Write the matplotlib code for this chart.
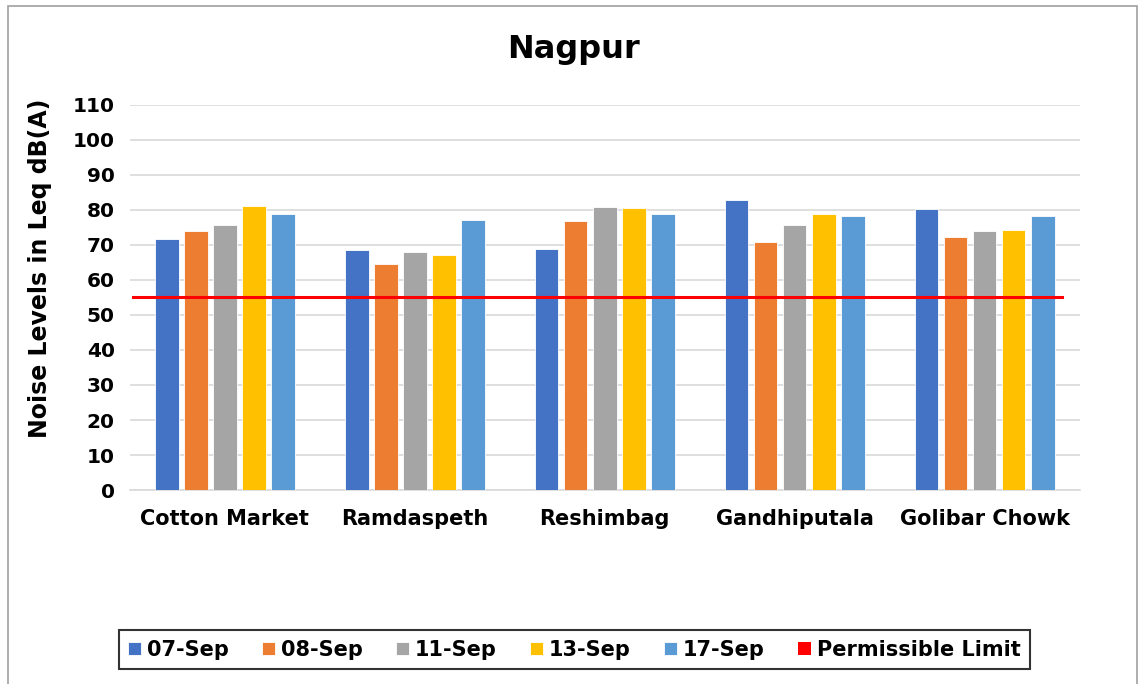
import numpy as np
import matplotlib.pyplot as plt
from matplotlib.patches import Rectangle

# ============================================================
# ДАННЫЕ
# ============================================================

locations = ["Cotton Market", "Ramdaspeth", "Reshimbag", "Gandhiputala", "Golibar Chowk"]
dates = ["07-Sep", "08-Sep", "11-Sep", "13-Sep", "17-Sep"]

sep07 = [71.6, 68.5, 68.9, 82.8, 80.3]
sep08 = [73.9, 64.6, 76.9, 70.9, 72.2]
sep11 = [75.6, 67.9, 80.9, 75.7, 74.0]
sep13 = [81.2, 67.1, 80.6, 78.9, 74.4]
sep17 = [78.8, 77.1, 78.8, 78.3, 78.3]

limit = 55
limit_label = "Permissible Limit"

colors = ["#4472C4", "#ED7D31", "#A5A5A5", "#FFC000", "#5B9BD5"]

# ============================================================
# РИСУНОК
# ============================================================

plt.rcParams["font.family"] = "DejaVu Sans"
plt.rcParams["font.weight"] = "bold"

fig = plt.figure(figsize=(11.4, 6.84), dpi=100)
ax = fig.add_axes([0.114, 0.2836, 0.833, 0.563])

series = [sep07, sep08, sep11, sep13, sep17]
x = np.arange(len(locations))
step = 0.153
width = 0.124

for i, (vals, lab, col) in enumerate(zip(series, dates, colors)):
    ax.bar(x + (i - 2) * step, vals, width, color=col, edgecolor="white",
           linewidth=0.6, label=lab, zorder=3)

ax.plot([-0.485, 4.405], [limit, limit], color="red", linewidth=2.2, zorder=4)
# маркер для легенды
ax.bar([0], [0], color="red", label=limit_label)

ax.set_xlim(-0.5, 4.5)
ax.set_ylim(0, 110)
ax.set_yticks(np.arange(0, 111, 10))
ax.set_xticks(x)
ax.set_xticklabels(locations, fontsize=15, fontweight="bold")
ax.tick_params(axis="y", labelsize=14.5, length=0, pad=11)
ax.tick_params(axis="x", length=0, pad=14)

ax.grid(axis="y", color="#D9D9D9", linewidth=1.2, zorder=0)
for s in ["top", "right", "left"]:
    ax.spines[s].set_visible(False)
ax.spines["bottom"].set_color("#D9D9D9")
ax.spines["bottom"].set_linewidth(1.2)

ax.set_ylabel("Noise Levels in Leq dB(A)", fontsize=17, fontweight="bold")
ax.yaxis.set_label_coords(-0.082, 0.577)
fig.text(0.503, 0.928, "Nagpur", ha="center", va="center", fontsize=23, fontweight="bold")

leg = fig.legend(loc="center", bbox_to_anchor=(0.504, 0.05), ncol=6, fontsize=15,
                 frameon=True, fancybox=False, edgecolor="black", handlelength=0.6,
                 handleheight=0.6, handletextpad=0.3, columnspacing=1.6,
                 borderpad=0.45)
leg.get_frame().set_linewidth(1.5)

# рамка вокруг всей диаграммы
border = Rectangle((0.007, -0.05), 0.99, 1.041, transform=fig.transFigure,
                   fill=False, edgecolor="#A0A0A0", linewidth=1.2)
fig.patches.append(border)

fig.savefig("out.png", dpi=100)
